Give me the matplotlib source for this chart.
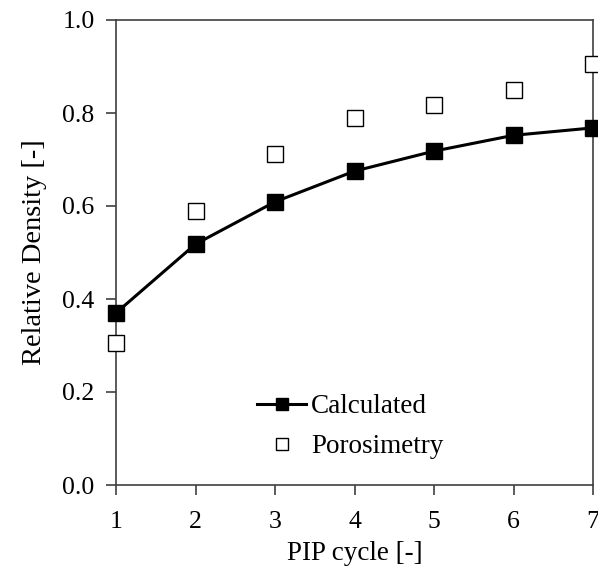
import numpy as np
import matplotlib
matplotlib.use("Agg")
import matplotlib.pyplot as plt
from matplotlib.lines import Line2D

cycles = [1, 2, 3, 4, 5, 6, 7]
calculated = [0.370, 0.518, 0.609, 0.675, 0.718, 0.752, 0.768]
porosimetry = [0.305, 0.589, 0.712, 0.789, 0.817, 0.849, 0.905]

plt.rcParams['font.family'] = ['Liberation Serif', 'DejaVu Serif']

fig = plt.figure(figsize=(5.98, 5.75), dpi=100)
ax = fig.add_axes([116/598, 1-485/575, (593-116)/598, (485-20)/575])

ax.plot(cycles, calculated, color='black', lw=2.2, clip_on=False, zorder=2)
ax.plot(cycles, calculated, ls='none', marker='s', ms=12, color='black', clip_on=False, zorder=3)
ax.plot(cycles, porosimetry, ls='none', marker='s', ms=12, mfc='white', mec='black', mew=1.0, clip_on=False, zorder=3)

ax.set_xlim(1, 7)
ax.set_ylim(0, 1.0)
ax.set_xticks(cycles)
ax.set_yticks([0, 0.2, 0.4, 0.6, 0.8, 1.0])
ax.set_yticklabels(['0.0', '0.2', '0.4', '0.6', '0.8', '1.0'])
for s in ax.spines.values():
    s.set_color('#404040'); s.set_linewidth(1.2)
ax.tick_params(axis='both', direction='out', length=7.5, width=1.2, color='#404040',
               labelsize=18.5, top=False, right=False)
ax.tick_params(axis='y', pad=8)
ax.tick_params(axis='x', pad=11)
ax.set_xlabel('PIP cycle [-]', fontsize=19.5, labelpad=6)
ax.set_ylabel('Relative Density [-]', fontsize=20.5, labelpad=11)

handles = [Line2D([], [], color='black', lw=2.2, marker='s', ms=9),
           Line2D([], [], ls='none', marker='s', ms=9, mfc='white', mec='black', mew=1.0)]
ax.legend(handles, ['Calculated', 'Porosimetry'], loc='upper left', bbox_to_anchor=(0.296, 0.195),
          borderaxespad=0, borderpad=0, frameon=False, fontsize=19.5, handlelength=1.8,
          handletextpad=0.2, labelspacing=0.55)

fig.savefig('out.png', dpi=100)
